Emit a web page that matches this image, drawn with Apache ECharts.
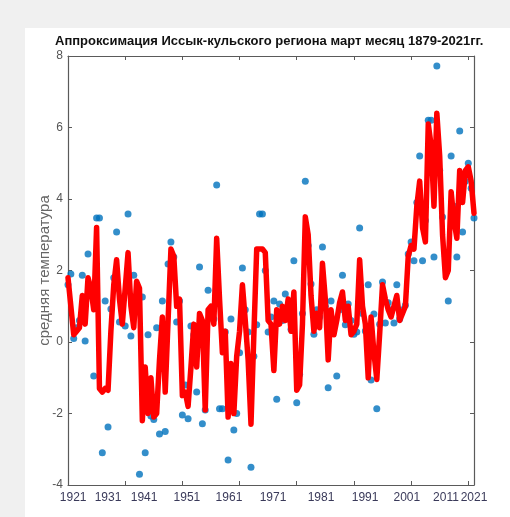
<!DOCTYPE html>
<html>
<head>
<meta charset="utf-8">
<script src="https://cdn.jsdelivr.net/npm/echarts@6/dist/echarts.min.js"></script>
<style>
  html, body { margin: 0; padding: 0; background: #f0f0f0; }
  #chart { width: 510px; height: 517px; }
</style>
</head>
<body>
<div id="chart"></div>
<script>
// March mean temperature, Issyk-Kul region, one value per year (1879-2021),
// plotted against the year's position in the series.
const observed = [
  1.6, 1.9, 0.1, 0.4, 0.6, 1.87, 0.03, 2.46, 1.3, -0.95,
  3.47, 3.47, -3.1, 1.15, -2.38, 0.92, 1.8, 3.08, 0.56, 0.9,
  0.45, 3.58, 0.17, 1.87, 1.3, -3.7, 1.26, -3.1, 0.2, -2.07,
  -2.17, 0.4, -2.57, 1.15, -2.5, 2.18, 2.8, 2.38, 0.56, 1.15,
  -2.04, -1.2, -2.15, 0.45, 0.2, -1.4, 2.1, -2.29, -1.9, 1.45,
  0.9, 0.64, 4.39, -1.87, -1.87, 0.28, -3.3, 0.64, -2.46, -2.0,
  -0.3, 2.07, 0.9, 0.28, -3.5, -0.4, 0.48, 3.58, 3.58, 2.0,
  0.28, 0.7, 1.15, -1.6, 1.06, 0.6, 1.34, 1.0, 0.36, 2.27,
  -1.7, -0.9, 0.8, 4.5, 2.7, 1.62, 0.22, 0.9, 0.7, 2.66,
  1.0, -1.28, 1.15, 0.5, -0.95, 0.9, 1.87, 0.48, 1.06, 0.6,
  0.22, 0.28, 3.19, 0.8, 0.31, 1.6, -1.06, 0.78, -1.87, 0.5,
  1.68, 0.53, 1.1, 0.9, 0.53, 1.6, 0.64, 0.9, 1.03, 2.46,
  2.8, 2.27, 3.9, 5.2, 2.27, 3.4, 6.2, 6.2, 2.38, 7.72,
  4.8, 3.5, 2.4, 1.15, 5.2, 3.8, 2.38, 5.9, 3.08, 4.5,
  5.0, 4.3, 3.47
];

// Approximating curve, same positions
const approximation = [
  1.8, 1.0, 0.2, 0.3, 0.4, 1.3, 0.5, 1.8, 1.5, 0.9,
  3.2, -1.3, -1.4, -1.3, -1.35, 0.3, 1.6, 2.3, 1.2, 0.5,
  1.5, 2.5, 1.0, 0.4, 1.7, 1.5, -2.2, -0.7, -2.0, -1.0,
  -2.1, -2.0, -0.5, 0.7, -1.4, 0.6, 2.6, 2.4, 1.0, 1.2,
  -1.5, -1.4, -1.8, -0.7, 0.5, -0.7, 0.8, 0.6, -1.9, 0.9,
  1.0, 0.5, 2.9, 1.2, -0.3, 0.3, -2.1, -0.6, -2.0, -0.4,
  0.3, 1.6, 0.6, -0.5, -2.3, 0.2, 2.6, 2.6, 2.6, 2.5,
  0.6, 0.5, -0.8, 0.9, 0.5, 1.0, 0.6, 1.2, 0.3, 1.4,
  -1.35, -1.2, 0.5, 3.5, 3.0, 1.3, 0.3, 0.8, 0.4, 2.2,
  1.2, -0.5, 0.9, 0.2, 0.6, 1.1, 1.4, 0.6, 1.0, 0.2,
  0.3, 0.5, 2.3, 1.0, 0.5, -1.0, 0.7, -0.3, -1.05, 0.22,
  1.6, 1.2, 0.9, 0.7, 1.0, 1.3, 0.6, 0.8, 1.0, 2.4,
  2.7, 2.6, 3.8, 4.5, 3.2, 2.8, 6.1, 5.5, 3.8, 6.4,
  5.2, 3.0, 1.8, 2.0, 4.2, 3.4, 2.9, 4.8, 3.9, 4.8,
  4.9, 4.5, 3.6
];

const xTickLabels = ['1921', '1931', '1941', '1951', '1961', '1971', '1981', '1991', '2001', '2011', '2021'];
const yTickValues = [-4, -2, 0, 2, 4, 6, 8];

const titleText = 'Аппроксимация Иссык-кульского региона март месяц 1879-2021гг.';
const yName = 'средняя температура';

// ---- layout ----
const lastIndex = observed.length - 1;
const tickMarks = [0, 20, 40, 60, 80, 100, 120, 140];
const labelSpots = [1.8, 14, 26.6, 41.6, 56.3, 71.7, 88.5, 103.9, 118.5, 132.2, 142];
const axisColor = '#5a5a5a';
const font = 'Liberation Sans, Arial, sans-serif';

const chart = echarts.init(document.getElementById('chart'), null, { renderer: 'canvas' });

const boxAxis = (pos) => ({
  type: 'value', position: pos, min: 0, max: lastIndex,
  axisLine: { show: true, onZero: false, lineStyle: { color: axisColor, width: 1.2 } },
  axisTick: { show: true, inside: true, length: 4, customValues: tickMarks, lineStyle: { color: axisColor } },
  axisLabel: { show: false },
  splitLine: { show: false }
});

const bottomAxis = boxAxis('bottom');
bottomAxis.axisLabel = {
  show: true, customValues: labelSpots, margin: 7,
  color: '#3a3a5a', fontSize: 12, fontFamily: font,
  formatter: (v) => {
    const k = labelSpots.indexOf(v);
    return k >= 0 ? xTickLabels[k] : '';
  }
};

const option = {
  animation: false,
  backgroundColor: '#f0f0f0',
  graphic: [{
    type: 'rect', z: -10, silent: true,
    shape: { x: 25, y: 28, width: 485, height: 489 },
    style: { fill: '#ffffff' }
  }],
  title: {
    text: titleText, left: 55, top: 35, padding: 0,
    textStyle: { fontSize: 13, fontWeight: 'bold', color: '#111', fontFamily: font }
  },
  grid: { left: 68, right: 36, top: 56, bottom: 32, containLabel: false },
  xAxis: [bottomAxis, boxAxis('top')],
  yAxis: [
    {
      type: 'value', position: 'left', min: -4, max: 8, interval: 2,
      name: yName, nameLocation: 'middle', nameGap: 16, nameMoveOverlap: false,
      nameTextStyle: { color: '#666', fontSize: 15, fontFamily: font },
      axisLine: { show: true, onZero: false, lineStyle: { color: axisColor, width: 1.2 } },
      axisTick: { show: true, inside: true, length: 4, customValues: yTickValues, lineStyle: { color: axisColor } },
      axisLabel: { show: true, customValues: yTickValues, margin: 5, color: '#555', fontSize: 12, fontFamily: font },
      splitLine: { show: false }
    },
    {
      type: 'value', position: 'right', min: -4, max: 8, interval: 2,
      axisLine: { show: true, onZero: false, lineStyle: { color: axisColor, width: 1.2 } },
      axisTick: { show: true, inside: true, length: 4, lineStyle: { color: axisColor } },
      axisLabel: { show: false },
      splitLine: { show: false }
    }
  ],
  series: [
    {
      name: 'observed', type: 'scatter', z: 2,
      data: observed.map((v, i) => [i, v]),
      symbol: 'circle', symbolSize: 7,
      itemStyle: { color: '#0072BD' }
    },
    {
      name: 'approximation', type: 'line', z: 3,
      data: approximation.map((v, i) => [i, v]),
      showSymbol: false, smooth: false,
      lineStyle: { color: '#ff0000', width: 5.5, join: 'round', cap: 'round' }
    }
  ]
};

chart.setOption(option);
</script>
</body>
</html>
